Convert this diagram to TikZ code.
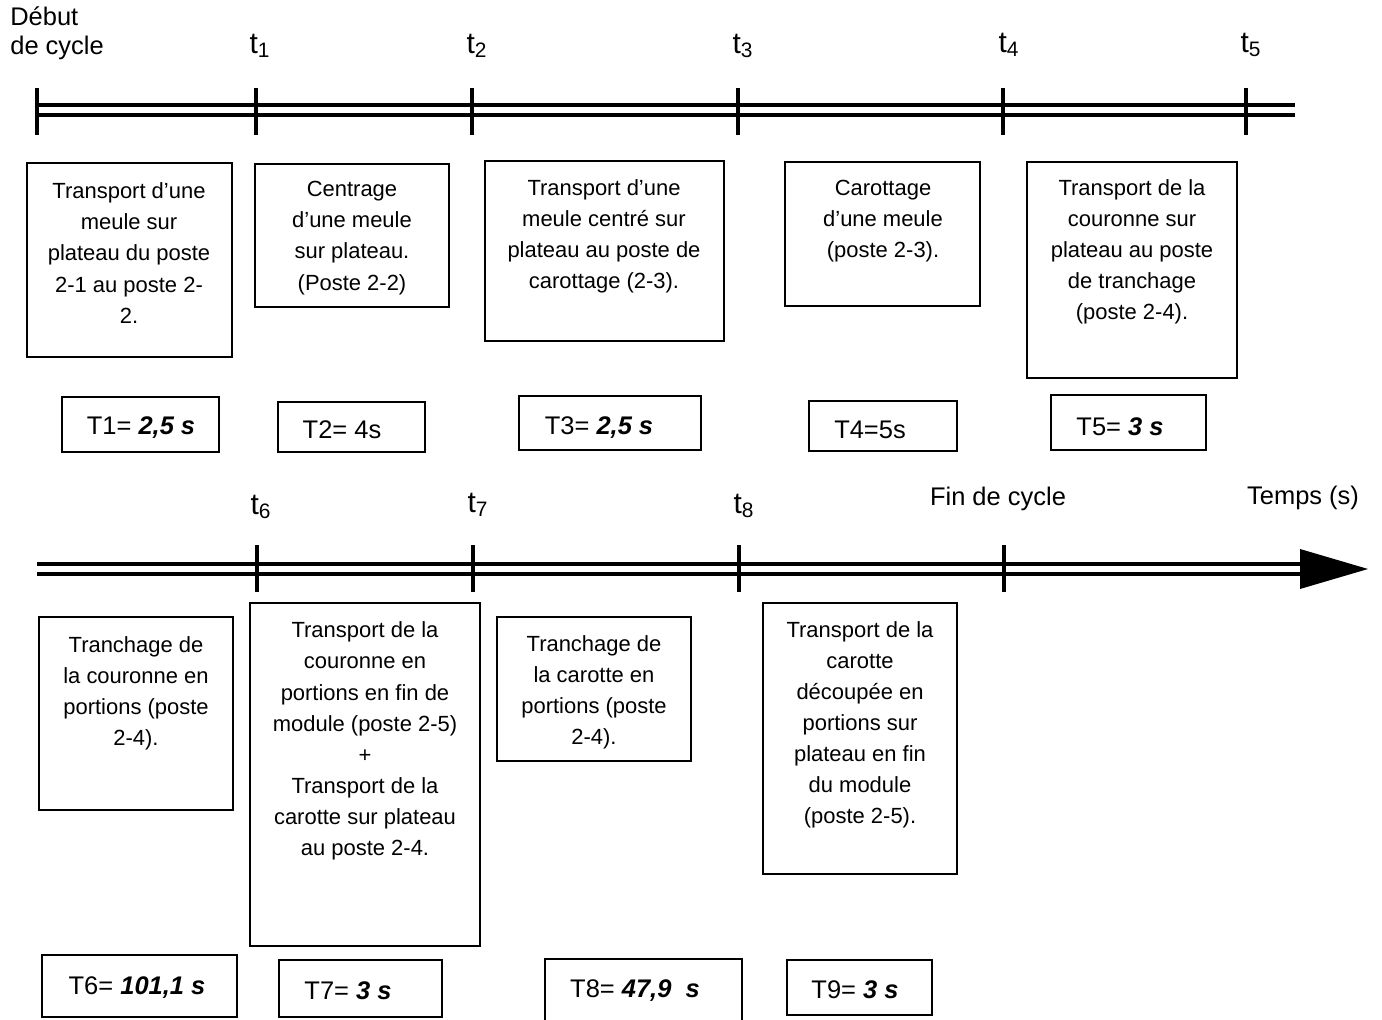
\documentclass[tikz,border=0pt]{standalone}
\usepackage{fontspec}
\setmainfont{Liberation Sans}
\usepackage{tikz}
\usetikzlibrary{positioning}

\tikzset{
  axe/.style={line width=2.6pt},
  tickmark/.style={line width=2.6pt},
  cadre/.style={line width=1.2pt},
  etape/.style={align=center, inner sep=0pt, font=\fontsize{12.5}{17.7}\selectfont},
  duree/.style={inner sep=0pt, font=\fontsize{14.5}{17}\selectfont},
  repere/.style={inner sep=0pt, font=\fontsize{14.5}{17}\selectfont},
  instant/.style={inner sep=0pt, font=\fontsize{17}{19}\selectfont}
}
\newcommand{\val}[1]{\textbf{\textit{#1}}}

\begin{document}
\begin{tikzpicture}[x=0.02cm, y=-0.02cm]
  \useasboundingbox (0,0) rectangle (1382,1020);

  % axe du haut (t0 -> t5)
  \draw[axe] (37,105) -- (1295,105);
  \draw[axe] (37,115) -- (1295,115);
  \foreach \x in {37,256,472,738,1003,1246} {
    \draw[tickmark] (\x,88) -- (\x,135);
  }
  \node[repere, align=left, anchor=north west] (debut) at (10,6) {Début\\de cycle};
  \node[instant] (t1) at (260,46) {t\textsubscript{1}};
  \node[instant] (t2) at (477,46) {t\textsubscript{2}};
  \node[instant] (t3) at (743,46) {t\textsubscript{3}};
  \node[instant] (t4) at (1009,45) {t\textsubscript{4}};
  \node[instant] (t5) at (1251,45) {t\textsubscript{5}};

  % axe du bas (t5 -> fin), avec fleche
  \draw[axe] (37,564) -- (1305,564);
  \draw[axe] (37,574) -- (1305,574);
  \fill (1300,549) -- (1368,569) -- (1300,589) -- cycle;
  \foreach \x in {257,473,739,1004} {
    \draw[tickmark] (\x,545) -- (\x,592);
  }
  \node[instant] (t6) at (261,507) {t\textsubscript{6}};
  \node[instant] (t7) at (478,505) {t\textsubscript{7}};
  \node[instant] (t8) at (744,506) {t\textsubscript{8}};
  \node[repere] (fin) at (998,499) {Fin de cycle};
  \node[repere] (temps) at (1303,498) {Temps (s)};

  % cadres des etapes
  \foreach \xa/\ya/\xb/\yb in {27/163/232/357, 255/164/449/307, 485/161/724/341,
      785/162/980/306, 1027/162/1237/378, 39/617/233/810, 250/603/480/946,
      497/617/691/761, 763/603/957/874} {
    \draw[cadre] (\xa,\ya) rectangle (\xb,\yb);
  }
  \node[etape] (e1) at (129,253) {Transport d'une\\meule sur\\plateau du poste\\2-1 au poste 2-\\2.};
  \node[etape] (e2) at (352,238) {Centrage\\d'une meule\\sur plateau.\\(Poste 2-2)};
  \node[etape] (e3) at (604,236) {Transport d'une\\meule centré sur\\plateau au poste de\\carottage (2-3).};
  \node[etape] (e4) at (883,221) {Carottage\\d'une meule\\(poste 2-3).};
  \node[etape] (e5) at (1132,252) {Transport de la\\couronne sur\\plateau au poste\\de tranchage\\(poste 2-4).};
  \node[etape] (e6) at (136,693) {Tranchage de\\la couronne en\\portions (poste\\2-4).};
  \node[etape] (e7) at (365,741) {Transport de la\\couronne en\\portions en fin de\\module (poste 2-5)\\+\\Transport de la\\carotte sur plateau\\au poste 2-4.};
  \node[etape] (e8) at (594,692) {Tranchage de\\la carotte en\\portions (poste\\2-4).};
  \node[etape] (e9) at (860,725) {Transport de la\\carotte\\découpée en\\portions sur\\plateau en fin\\du module\\(poste 2-5).};

  % cadres des durees
  \foreach \xa/\ya/\xb/\yb in {62/397/219/452, 278/402/425/452, 519/396/701/450,
      809/401/957/451, 1051/395/1206/450, 42/955/237/1017, 279/960/442/1017,
      545/959/742/1024, 787/960/932/1015} {
    \draw[cadre] (\xa,\ya) rectangle (\xb,\yb);
  }
  \node[duree] (d1) at (141,428) {T1= \val{2,5 s}};
  \node[duree] (d2) at (342,430) {T2= 4s};
  \node[duree] (d3) at (599,428) {T3= \val{2,5 s}};
  \node[duree] (d4) at (870,430) {T4=5s};
  \node[duree] (d5) at (1120,427) {T5= \val{3 s}};
  \node[duree] (d6) at (137,988) {T6= \val{101,1 s}};
  \node[duree] (d7) at (348,991) {T7= \val{3 s}};
  \node[duree] (d8) at (635,991) {T8= \val{47,9\ \ s}};
  \node[duree] (d9) at (855,990) {T9= \val{3 s}};
\end{tikzpicture}
\end{document}
